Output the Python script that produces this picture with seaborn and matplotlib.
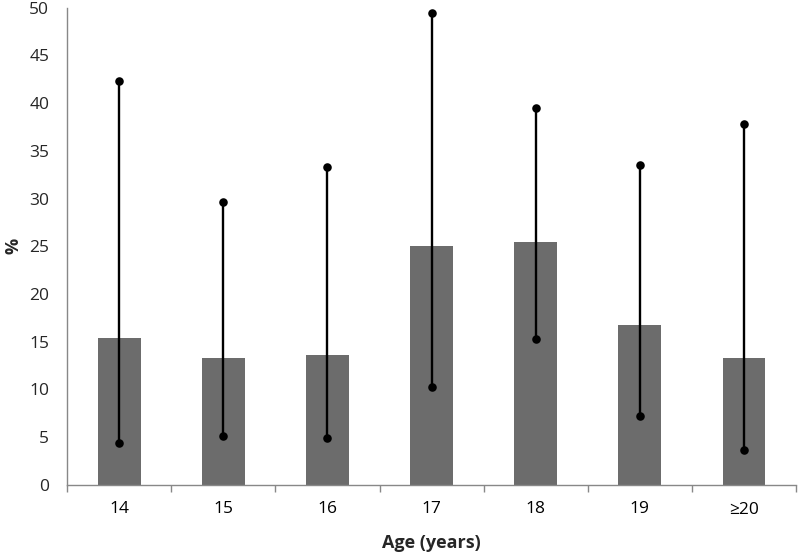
import matplotlib
matplotlib.use("Agg")
import matplotlib.pyplot as plt
import seaborn as sns
import numpy as np
import pandas as pd

categories = ["14", "15", "16", "17", "18", "19", "≥20"]
values = [15.4, 13.3, 13.6, 25.0, 25.5, 16.7, 13.3]
lower = [4.4, 5.1, 4.9, 10.3, 15.3, 7.2, 3.7]
upper = [42.3, 29.6, 33.3, 49.5, 39.5, 33.5, 37.8]
yticks = [0, 5, 10, 15, 20, 25, 30, 35, 40, 45, 50]

sns.set_theme(style="white")
plt.rcParams['font.family'] = ['Open Sans', 'DejaVu Sans']

df = pd.DataFrame({"age": categories, "pct": values})

fig = plt.figure(figsize=(8, 5.56), dpi=100)
ax = fig.add_axes([0.084, 0.128, 0.911, 0.858])

sns.barplot(data=df, x="age", y="pct", color="#6c6c6c", saturation=1,
            width=0.41, ax=ax, edgecolor="none")

pos = np.arange(len(categories))
for x, lo, hi in zip(pos, lower, upper):
    ax.plot([x, x], [lo, hi], color="black", lw=1.7, zorder=3)
ax.scatter(pos, lower, s=38, color="black", zorder=4, linewidths=0)
ax.scatter(pos, upper, s=38, color="black", zorder=4, linewidths=0)

ax.set_ylim(0, 50)
ax.set_xlim(-0.5, len(categories) - 0.5)
ax.set_yticks(yticks)
ax.set_yticklabels([str(t) for t in yticks], fontsize=12.5)
ax.set_xticks(pos)
ax.set_xticklabels(categories, fontsize=12.5)
ax.set_xticks(np.arange(-0.5, len(categories)), minor=True)
ax.tick_params(axis="x", which="major", length=0, pad=12, colors="black")
ax.tick_params(axis="x", which="minor", length=5, direction="out", color="#888888", width=1, bottom=True)
ax.tick_params(axis="y", which="major", length=5, direction="out", color="#888888", width=1, pad=8)

for s in ["top", "right"]:
    ax.spines[s].set_visible(False)
for s in ["left", "bottom"]:
    ax.spines[s].set_color("#888888")
    ax.spines[s].set_linewidth(1)

ax.set_xlabel("Age (years)", fontsize=13, fontweight="bold", labelpad=12)
ax.set_ylabel("%", fontsize=13, fontweight="bold", labelpad=5)

fig.savefig("out.png", dpi=100)
